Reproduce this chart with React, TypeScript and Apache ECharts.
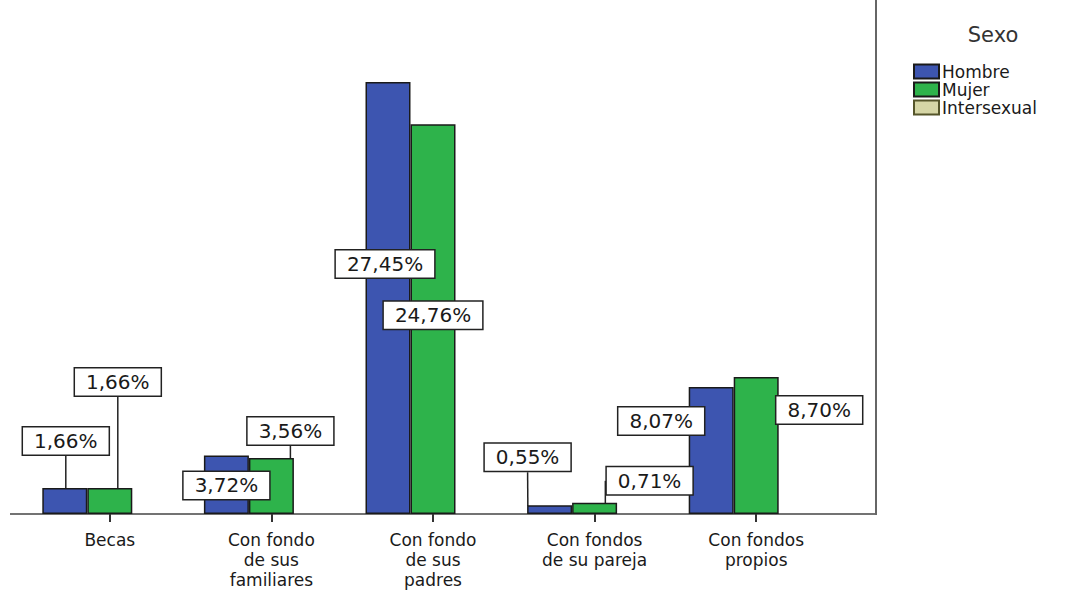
import React, { useEffect, useRef } from "react";
import * as echarts from "echarts";

const categories = [
  "Becas",
  "Con fondo\nde sus\nfamiliares",
  "Con fondo\nde sus\npadres",
  "Con fondos\nde su pareja",
  "Con fondos\npropios",
];
const seriesNames = ["Hombre", "Mujer", "Intersexual"];
const hombre = [1.66, 3.72, 27.45, 0.55, 8.07];
const mujer = [1.66, 3.56, 24.76, 0.71, 8.7];
const intersexual = [0, 0, 0, 0, 0];

// label box offsets (centre of box relative to bar top-centre) and leader lines
const hombreOffsets = [[1, -47], [0, 30], [-3, 182], [-22, -48], [-50, 34]];
const mujerOffsets = [[8, -106], [19, -27], [0, 191], [55, -22], [63, 33]];
const hombreLines = [true, false, false, true, false];
const mujerLines = [true, true, false, true, false];

const colors = ["#3d55b0", "#2eb34b", "#d6d6a6"];
const FONT = "DejaVu Sans";
const W = 1086;
const H = 592;
const GRID_BOTTOM = 78;
const BASE_Y = H - GRID_BOTTOM;
const FRAME_X = 876;

const fmt = (v: number) => v.toFixed(2).replace(".", ",") + "%";

export default function App() {
  const ref = useRef<HTMLDivElement>(null);
  useEffect(() => {
    if (!ref.current) return;
    const chart = echarts.init(ref.current, null, { renderer: "svg" });
    const offsets = [hombreOffsets, mujerOffsets, []];
    const lines = [hombreLines, mujerLines, []];
    const values = [hombre, mujer, intersexual];
    const labelStyle = {
      show: true,
      formatter: (p: any) => fmt(p.value),
      fontFamily: FONT,
      fontSize: 20,
      color: "#1a1a1a",
      backgroundColor: "#ffffff",
      borderColor: "#222222",
      borderWidth: 1.5,
      padding: [4, 11, 3, 11],
    };
    const series = seriesNames.map((name, si) => ({
      name,
      type: "bar",
      barWidth: 45,
      barGap: "0%",
      itemStyle: {
        color: colors[si],
        borderColor: si === 2 ? "#55552a" : "#1a1a1a",
        borderWidth: 1.5,
      },
      label: si < 2 ? labelStyle : { show: false },
      labelLine: { show: false, lineStyle: { color: "#222", width: 1.5 } },
      labelLayout:
        si < 2
          ? (p: any) => {
              const o = offsets[si][p.dataIndex];
              return {
                x: p.rect.x + p.rect.width / 2 + o[0],
                y: p.rect.y + o[1],
                align: "center",
                verticalAlign: "middle",
              };
            }
          : undefined,
      data: values[si].map((v, i) => ({
        value: v,
        labelLine: { show: si < 2 ? lines[si][i] : false },
        itemStyle: si === 2 ? { borderWidth: 0 } : undefined,
      })),
    }));

    chart.setOption({
      animation: false,
      backgroundColor: "#ffffff",
      grid: { left: 29, right: 249, top: 0, bottom: GRID_BOTTOM },
      legend: {
        orient: "vertical",
        left: 908,
        top: 58,
        itemWidth: 25,
        itemHeight: 14,
        itemGap: 1,
        icon: "rect",
        data: seriesNames,
        textStyle: {
          fontFamily: FONT,
          fontSize: 17,
          color: "#1a1a1a",
          padding: [0, 0, 0, -2],
        },
      },
      xAxis: {
        type: "category",
        data: categories,
        axisLine: { show: false },
        axisTick: {
          show: true,
          alignWithLabel: true,
          length: 8,
          lineStyle: { color: "#333", width: 2 },
        },
        axisLabel: {
          margin: 16,
          interval: 0,
          fontFamily: FONT,
          fontSize: 17,
          lineHeight: 20,
          color: "#1a1a1a",
        },
      },
      yAxis: { type: "value", min: 0, max: 32.66, show: false },
      graphic: [
        {
          type: "line",
          shape: { x1: 10, y1: BASE_Y, x2: FRAME_X, y2: BASE_Y },
          style: { stroke: "#444", lineWidth: 1.5 },
          z: 0,
        },
        {
          type: "line",
          shape: { x1: FRAME_X, y1: 0, x2: FRAME_X, y2: BASE_Y + 1 },
          style: { stroke: "#666", lineWidth: 2 },
          z: 0,
        },
        {
          type: "text",
          x: 993,
          y: 35,
          style: {
            text: "Sexo",
            fontFamily: FONT,
            fontSize: 21,
            fill: "#333",
            align: "center",
            verticalAlign: "middle",
          },
        },
      ],
      series,
    });
    return () => chart.dispose();
  }, []);
  return (
    <div
      ref={ref}
      style={{ position: "absolute", left: 0, top: 0, width: W, height: H }}
    />
  );
}
